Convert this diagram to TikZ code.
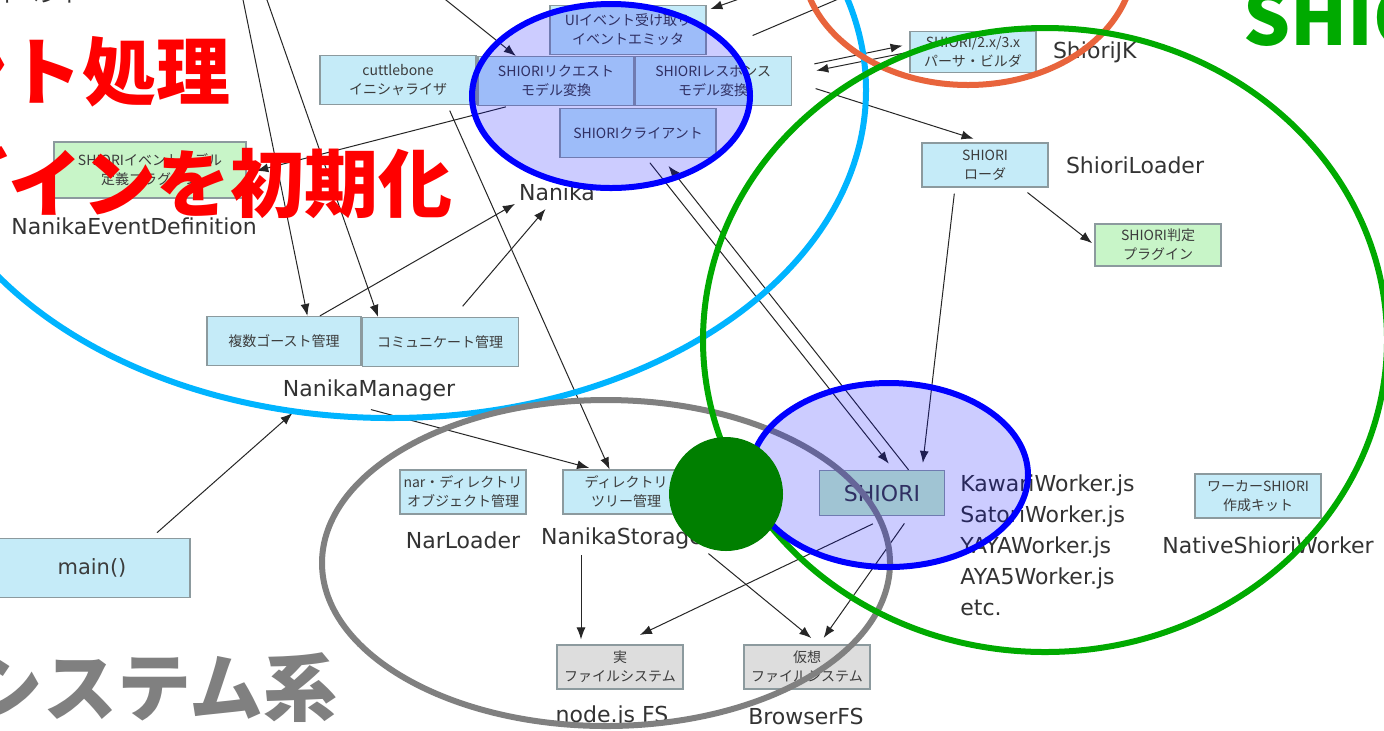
\documentclass[tikz,border=0pt]{standalone}
\usepackage{fontspec}
\setmainfont{Noto Sans CJK JP}
\newfontfamily\latinfont{DejaVu Sans}
\usetikzlibrary{arrows.meta,positioning}

\definecolor{boxblue}{HTML}{C5EBF8}
\definecolor{plugingreen}{HTML}{C8F5C8}
\definecolor{fsgray}{HTML}{DDDDDD}
\definecolor{boxline}{HTML}{8C9A9E}
\definecolor{boxtext}{HTML}{3C3C3C}
\definecolor{nanikablue}{HTML}{00B4FF}
\definecolor{jkorange}{HTML}{E8643C}
\definecolor{shiorigreen}{HTML}{00AA00}
\definecolor{workerblue}{HTML}{0000FF}
\definecolor{fsregion}{HTML}{808080}
\definecolor{dotgreen}{HTML}{007F00}

\tikzstyle{service} = [rectangle, minimum width=78pt, minimum height=24.5pt, inner sep=1pt, align=center, draw=boxline, line width=0.6pt, fill=boxblue, text=boxtext, font=\fontsize{7pt}{9.5pt}\selectfont]
\tikzstyle{smallservice} = [service, minimum width=63pt, minimum height=22pt]
\tikzstyle{plugin} = [smallservice, fill=plugingreen]
\tikzstyle{fsbox} = [smallservice, fill=fsgray]
\tikzstyle{modname} = [inner sep=1pt, text=black!80, font=\latinfont\fontsize{11pt}{15.5pt}\selectfont]
\tikzstyle{flow} = [line width=0.5pt, black!85, -{Latex[length=6pt,width=4.5pt]}]
\tikzstyle{region} = [line width=3pt]
\tikzstyle{slogan} = [inner sep=0pt, font=\fontsize{37pt}{37pt}\selectfont\bfseries]

\begin{document}
\begin{tikzpicture}[x=0.5pt, y=-0.5pt]
      \useasboundingbox (0,0) rectangle (1384,730);
      \fill [white] (0,0) rectangle (1384,730);
      \clip (0,0) rectangle (1384,730);

      % Nanika
      \node (cuttle) [service] at (398,80) {cuttlebone\\イニシャライザ};
      \node (uiev) [service] at (628,30) {UIイベント受け取り\\イベントエミッタ};
      \node (req) [service] at (556,81) {SHIORIリクエスト\\モデル変換};
      \node (res) [service, right=0pt of req] {SHIORIレスポンス\\モデル変換};
      \node (client) [service] at (638,133) {SHIORIクライアント};
      \node (nanikalbl) [modname] at (557,192) {Nanika};
      \node (evdef) [plugin, minimum width=96pt, minimum height=28pt] at (150,170) {SHIORIイベントモデル\\定義プラグイン};
      \node (evdeflbl) [modname, anchor=west] at (9,226) {NanikaEventDefinition};
      \node (evlbl) [modname, font=\fontsize{11pt}{13pt}\selectfont] at (40,-6) {イベント};

      % NanikaManager
      \node (ghost) [service, minimum width=77pt] at (284,341) {複数ゴースト管理};
      \node (comm) [service, right=0pt of ghost, yshift=-0.5pt] {コミュニケート管理};
      \node (mgrlbl) [modname, inner ysep=4pt] at (369,390) {NanikaManager};
      \node (main) [service, minimum width=98pt, minimum height=29.5pt, font=\latinfont\fontsize{10.5pt}{12pt}\selectfont] at (92,568) {main()};

      % SHIORI
      \node (jk) [smallservice, minimum height=20.5pt] at (973,52) {SHIORI/2.x/3.x\\パーサ・ビルダ};
      \node (jklbl) [modname, right=7pt of jk] {ShioriJK};
      \node (loader) [smallservice] at (985,165) {SHIORI\\ローダ};
      \node (loaderlbl) [modname, right=7.5pt of loader] {ShioriLoader};
      \node (judge) [plugin, minimum height=21pt] at (1158,245) {SHIORI判定\\プラグイン};
      \node (shiori) [plugin, minimum width=62.5pt, minimum height=22.5pt, font=\latinfont\fontsize{11pt}{13pt}\selectfont] at (882,493) {SHIORI};
      \node (workers) [modname, align=left, anchor=west] at (958,545) {KawariWorker.js\\SatoriWorker.js\\YAYAWorker.js\\AYA5Worker.js\\etc.};
      \node (kit) [smallservice] at (1258,496) {ワーカーSHIORI\\作成キット};
      \node (kitlbl) [modname] at (1268,545) {NativeShioriWorker};

      % file system
      \node (nar) [smallservice] at (463,492) {nar・ディレクトリ\\オブジェクト管理};
      \node (narlbl) [modname] at (463,540) {NarLoader};
      \node (tree) [smallservice] at (626,492) {ディレクトリ\\ツリー管理};
      \node (storlbl) [modname] at (622,538) {NanikaStorage};
      \node (realfs) [fsbox] at (620,667) {実\\ファイルシステム};
      \node (realfslbl) [modname] at (612,716) {node.js FS};
      \node (virtfs) [fsbox] at (807,667) {仮想\\ファイルシステム};
      \node (virtfslbl) [modname] at (806,716) {BrowserFS};

      \coordinate (topA) at (239,-20);
      \coordinate (topB) at (260,-20);
      \coordinate (topC) at (421,-20);
      \coordinate (topD) at (793,-20);
      \coordinate (topE) at (883,-20);
      \coordinate (storfoot) at ([xshift=-20.5pt]storlbl.south);

      \draw [flow] (topA) -- (ghost.47);
      \draw [flow] (topB) -- (comm.158);
      \draw [flow, shorten >=1pt] (ghost.35) -- (nanikalbl.south west);
      \draw [flow, shorten <=7pt, shorten >=4pt] (comm.62) -- (nanikalbl.240);
      \draw [flow, shorten <=3pt] (cuttle.-27.5) -- (tree.126);
      \draw [flow, shorten <=1.5pt, shorten >=5pt] (req.208) -- (evdef.-2);
      \draw [flow] (topC) -- (req.148);
      \draw [flow, shorten >=2pt] (topD) -- (uiev.14);
      \draw [flow, shorten <=25pt] (uiev.south east) -- (topE);
      \draw [flow, shorten <=11.5pt, shorten >=3.5pt] (res.9.5) -- (jk.173);
      \draw [flow, shorten <=2.5pt, shorten >=12.5pt] (jk.west) -- (res.4);
      \draw [flow, shorten <=12.5pt, shorten >=6pt] (res.east) -- (loader.north);
      \draw [flow, shorten <=3pt, shorten >=3.5pt] (loader.217) -- (shiori.30);
      \draw [flow, shorten <=4pt, shorten >=1.5pt] (loader.-32) -- (judge.west);
      \draw [flow, shorten <=3pt, shorten >=4pt] (client.-72) -- (shiori.63);
      \draw [flow, shorten >=5pt] (shiori.41.5) -- (client.-46);
      \draw [flow, shorten <=9pt, shorten >=11pt] (shiori.-73) -- (realfs.north);
      \draw [flow, shorten <=2pt, shorten >=2.5pt] (storfoot) -- (storfoot |- realfs.north);
      \draw [flow, shorten <=2pt, shorten >=5pt] (storlbl.south east) -- (virtfs.62);
      \draw [flow, shorten <=4.5pt, shorten >=4pt] (shiori.-40) -- (virtfs.62);
      \draw [flow, shorten <=1pt, shorten >=3pt] (mgrlbl.south) -- (tree.144);
      \draw [flow, shorten <=4pt] (main.27) -- ([xshift=6pt,yshift=-2pt]mgrlbl.south west);

      % regions
      \draw [region, draw=nanikablue] (390,90) ellipse [x radius=476, y radius=328];
      \draw [region, draw=fsregion] (606,563) ellipse [x radius=284, y radius=163];
      \draw [region, draw=jkorange] (968,-40) ellipse [x radius=166, y radius=125];
      \draw [region, draw=shiorigreen] (1045,340) ellipse [x radius=342, y radius=312];
      \filldraw [region, draw=workerblue, fill=workerblue, fill opacity=0.2] (611,96) ellipse [x radius=139, y radius=92];
      \filldraw [region, draw=workerblue, fill=workerblue, fill opacity=0.2] (889,475) ellipse [x radius=139, y radius=92];
      \fill [dotgreen] (726,494) circle [radius=57];

      \node (evproc) [slogan, text=red, anchor=east] at (231,72) {イベント処理};
      \node (plugininit) [slogan, text=red, anchor=east] at (453,183) {プラグインを初期化};
      \node (fssys) [slogan, text=fsregion, anchor=east] at (338,688) {ファイルシステム系};
      \node (shiorisys) [slogan, text=shiorigreen, anchor=base west] at (1243,45) {SHIORI系};
\end{tikzpicture}
\end{document}
